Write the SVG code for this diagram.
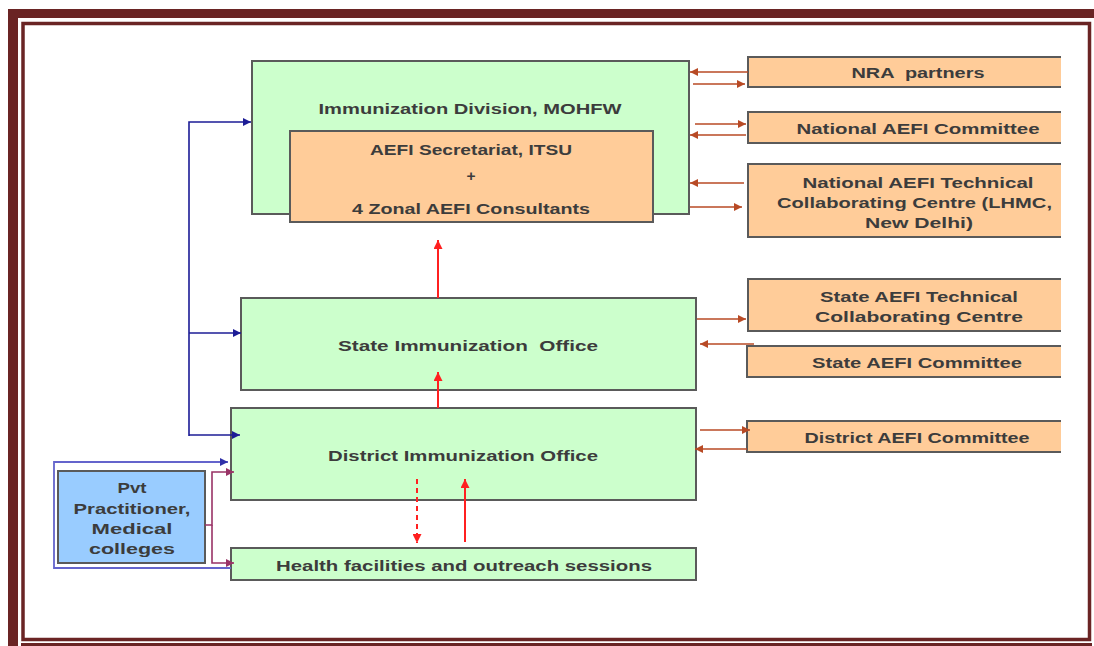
<svg xmlns="http://www.w3.org/2000/svg" width="1094" height="646" viewBox="0 0 1094 646">
<style>
.box{stroke:#5a5a5a;stroke-width:2}
.g{fill:#CCFFCC}
.o{fill:#FFCC99}
.b{fill:#99CCFF}
.t{font-family:"Liberation Sans",Arial,sans-serif;font-weight:bold;font-size:15.5px;fill:#3c3c3c;text-anchor:middle}
.br{stroke:#B84A25;stroke-width:1.6;fill:none;marker-end:url(#mBr)}
.nv{stroke:#1C1C96;stroke-width:1.6;fill:none}
.pw{stroke:#6464CC;stroke-width:1.8;fill:none}
.pu{stroke:#993366;stroke-width:1.6;fill:none}
.rd{stroke:#FF2020;stroke-width:2;fill:none;marker-end:url(#mRd)}
</style>
<defs>
<marker id="mBr" viewBox="0 0 10 10" refX="10" refY="5" markerWidth="9" markerHeight="8" markerUnits="userSpaceOnUse" orient="auto"><path d="M0,0L10,5L0,10z" fill="#B84A25"/></marker>
<marker id="mNv" viewBox="0 0 10 10" refX="10" refY="5" markerWidth="9" markerHeight="8" markerUnits="userSpaceOnUse" orient="auto"><path d="M0,0L10,5L0,10z" fill="#1C1C96"/></marker>
<marker id="mPw" viewBox="0 0 10 10" refX="10" refY="5" markerWidth="9" markerHeight="8" markerUnits="userSpaceOnUse" orient="auto"><path d="M0,0L10,5L0,10z" fill="#3030A8"/></marker>
<marker id="mPu" viewBox="0 0 10 10" refX="10" refY="5" markerWidth="9" markerHeight="8" markerUnits="userSpaceOnUse" orient="auto"><path d="M0,0L10,5L0,10z" fill="#993366"/></marker>
<marker id="mRd" viewBox="0 0 10 10" refX="10" refY="5" markerWidth="10" markerHeight="9" markerUnits="userSpaceOnUse" orient="auto"><path d="M0,0L10,5L0,10z" fill="#FF2020"/></marker>
<clipPath id="cr"><rect x="0" y="0" width="1061" height="646"/></clipPath>
</defs>
<rect width="1094" height="646" fill="#ffffff"/>
<g id="frame" fill="#6A2424">
<rect x="8" y="9" width="1086" height="9"/>
<rect x="8" y="9" width="10" height="637"/>
<rect x="21" y="643" width="1071" height="3"/>
<rect x="23" y="23.5" width="1066.5" height="616" fill="none" stroke="#6A2424" stroke-width="3.5"/>
</g>
<g id="immunization-division">
<rect class="box g" x="252" y="61" width="437" height="153"/>
<text class="t" x="470" y="114" textLength="303" lengthAdjust="spacingAndGlyphs">Immunization Division, MOHFW</text>
</g>
<g id="aefi-secretariat">
<rect class="box o" x="290" y="131" width="363" height="91"/>
<text class="t" x="471" y="155" textLength="202" lengthAdjust="spacingAndGlyphs">AEFI Secretariat, ITSU</text>
<text class="t" x="471" y="181">+</text>
<text class="t" x="471" y="214" textLength="238" lengthAdjust="spacingAndGlyphs">4 Zonal AEFI Consultants</text>
</g>
<g id="nra-partners" clip-path="url(#cr)">
<rect class="box o" x="748" y="57" width="330" height="30"/>
<text class="t" x="918" y="78" textLength="133" lengthAdjust="spacingAndGlyphs" xml:space="preserve">NRA  partners</text>
</g>
<g id="national-aefi-committee" clip-path="url(#cr)">
<rect class="box o" x="748" y="112" width="330" height="31"/>
<text class="t" x="918" y="134" textLength="243" lengthAdjust="spacingAndGlyphs">National AEFI Committee</text>
</g>
<g id="national-aefi-technical" clip-path="url(#cr)">
<rect class="box o" x="748" y="164" width="330" height="73"/>
<text class="t" x="918" y="188" textLength="231" lengthAdjust="spacingAndGlyphs">National AEFI Technical</text>
<text class="t" x="914.5" y="208" textLength="275" lengthAdjust="spacingAndGlyphs">Collaborating Centre (LHMC,</text>
<text class="t" x="919" y="228" textLength="108" lengthAdjust="spacingAndGlyphs">New Delhi)</text>
</g>
<g id="state-immunization-office">
<rect class="box g" x="241" y="298" width="455" height="92"/>
<text class="t" x="468" y="351" textLength="260" lengthAdjust="spacingAndGlyphs" xml:space="preserve">State Immunization  Office</text>
</g>
<g id="state-aefi-technical" clip-path="url(#cr)">
<rect class="box o" x="748" y="279" width="330" height="52"/>
<text class="t" x="919" y="302" textLength="198" lengthAdjust="spacingAndGlyphs">State AEFI Technical</text>
<text class="t" x="919" y="322" textLength="208" lengthAdjust="spacingAndGlyphs">Collaborating Centre</text>
</g>
<g id="state-aefi-committee" clip-path="url(#cr)">
<rect class="box o" x="747" y="346" width="330" height="31"/>
<text class="t" x="917" y="368" textLength="210" lengthAdjust="spacingAndGlyphs">State AEFI Committee</text>
</g>
<g id="district-immunization-office">
<rect class="box g" x="231" y="408" width="465" height="92"/>
<text class="t" x="463" y="461" textLength="270" lengthAdjust="spacingAndGlyphs">District Immunization Office</text>
</g>
<g id="district-aefi-committee" clip-path="url(#cr)">
<rect class="box o" x="747" y="421" width="330" height="31"/>
<text class="t" x="917" y="443" textLength="225" lengthAdjust="spacingAndGlyphs">District AEFI Committee</text>
</g>
<g id="health-facilities">
<rect class="box g" x="231" y="548" width="465" height="32"/>
<text class="t" x="464" y="571" textLength="376" lengthAdjust="spacingAndGlyphs">Health facilities and outreach sessions</text>
</g>
<g id="pvt-practitioner">
<rect class="box b" x="58" y="471" width="147" height="92"/>
<text class="t" x="132" y="493" textLength="29" lengthAdjust="spacingAndGlyphs">Pvt</text>
<text class="t" x="132" y="514" textLength="117" lengthAdjust="spacingAndGlyphs">Practitioner,</text>
<text class="t" x="132" y="534" textLength="81" lengthAdjust="spacingAndGlyphs">Medical</text>
<text class="t" x="132" y="554" textLength="86" lengthAdjust="spacingAndGlyphs">colleges</text>
</g>
<g id="connectors">
<line class="br" x1="748" y1="72" x2="690" y2="72"/>
<line class="br" x1="693" y1="84" x2="745" y2="84"/>
<line class="br" x1="695" y1="124" x2="746" y2="124"/>
<line class="br" x1="746" y1="135" x2="690" y2="135"/>
<line class="br" x1="744" y1="183" x2="690" y2="183"/>
<line class="br" x1="690" y1="207" x2="742" y2="207"/>
<line class="br" x1="697" y1="319" x2="746" y2="319"/>
<line class="br" x1="754" y1="344" x2="700" y2="344"/>
<line class="br" x1="700" y1="430" x2="750" y2="430"/>
<line class="br" x1="747" y1="449" x2="695" y2="449"/>
<path class="nv" d="M189,436V122H251" marker-end="url(#mNv)"/>
<path class="nv" d="M189,333H241" marker-end="url(#mNv)"/>
<path class="nv" d="M189,435H240" marker-end="url(#mNv)"/>
<path class="pw" d="M231,568H54V462H228" marker-end="url(#mPw)"/>
<path class="pu" d="M205,525H212V472H234" marker-end="url(#mPu)"/>
<path class="pu" d="M212,525V563H234" marker-end="url(#mPu)"/>
<line class="rd" x1="438" y1="298" x2="438" y2="240"/>
<line class="rd" x1="438" y1="408" x2="438" y2="372"/>
<line class="rd" x1="417" y1="479" x2="417" y2="543" stroke-dasharray="5,4"/>
<line class="rd" x1="465" y1="542" x2="465" y2="479"/>
</g>
</svg>
